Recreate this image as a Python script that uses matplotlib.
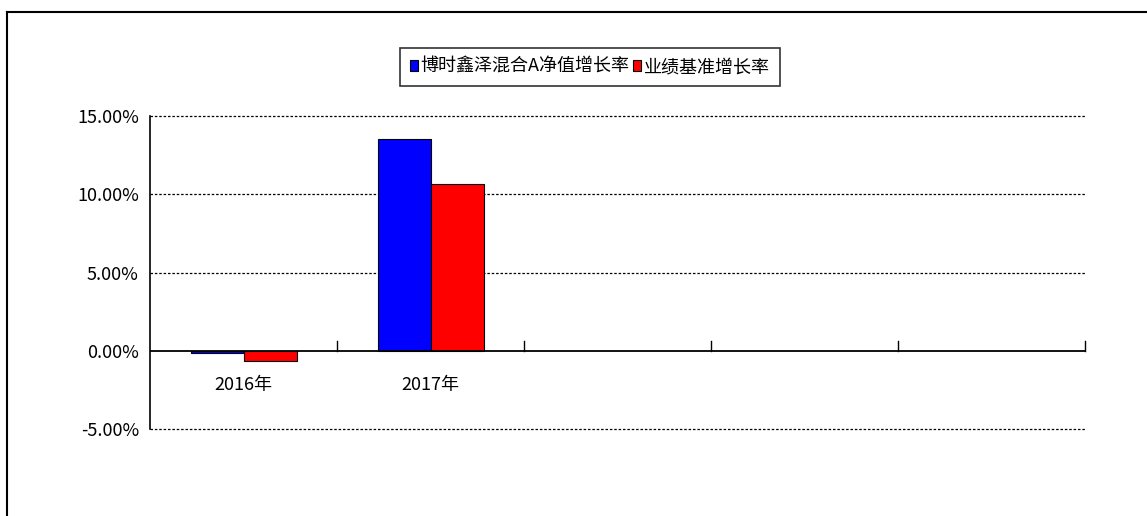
import numpy as np
import matplotlib.pyplot as plt
from matplotlib.lines import Line2D

plt.rcParams['font.family'] = ['Noto Sans CJK SC', 'DejaVu Sans']

# data
categories = ['2016年', '2017年', '', '', '']
fund_growth = [-0.15, 13.55]
bench_growth = [-0.68, 10.65]
series_names = ['博时鑫泽混合A净值增长率', '业绩基准增长率']
yticks = [-5, 0, 5, 10, 15]

W, H = 1147, 516
fig = plt.figure(figsize=(W / 100, H / 100), dpi=100)

# outer frame (top and left edges visible)
fig.add_artist(Line2D([7 / W, 7 / W], [0, 1 - 12 / H], color='black', lw=1.5))
fig.add_artist(Line2D([7 / W, 1], [1 - 12 / H, 1 - 12 / H], color='black', lw=1.5))

ax = fig.add_axes([150 / W, 1 - 429 / H, (1085 - 150) / W, (429 - 116) / H])

nslots = 5
x = np.arange(len(fund_growth)) + 0.5
bw = 53 / 187
ax.bar(x - bw / 2, fund_growth, bw, color='#0000ff', edgecolor='black', lw=0.8, label=series_names[0])
ax.bar(x + bw / 2, bench_growth, bw, color='#ff0000', edgecolor='black', lw=0.8, label=series_names[1])

ax.set_xlim(0, nslots)
ax.set_ylim(-5, 15)
ax.set_yticks(yticks)
ax.set_yticklabels(['%.2f%%' % v for v in yticks], fontsize=13)
for v in yticks:
    if v != 0:
        ax.axhline(v, color='black', lw=0.9, ls=(0, (2, 1.5)), zorder=0, clip_on=False)

ax.spines['top'].set_visible(False)
ax.spines['right'].set_visible(False)
ax.spines['bottom'].set_visible(False)
ax.spines['left'].set_color('black')
ax.spines['left'].set_linewidth(1.2)
ax.axhline(0, color='black', lw=1.3, zorder=3)

ax.tick_params(axis='y', length=0, pad=8)
ax.set_xticks([])
for i in range(1, nslots + 1):
    ax.plot([i, i], [0, 0.6], color='black', lw=1.0, zorder=3, clip_on=False)
for i, c in enumerate(categories):
    if c:
        ax.text(i + 0.5, -1.6, c, ha='center', va='top', fontsize=13)

leg = fig.legend(loc='center', bbox_to_anchor=(590 / W, 1 - 67 / H), ncol=2,
                 frameon=True, fancybox=False, edgecolor='black', fontsize=13,
                 handlelength=0.45, handleheight=0.6, handletextpad=0.15,
                 columnspacing=0.2, borderpad=0.55, borderaxespad=0)
leg.get_frame().set_linewidth(1.2)

fig.savefig('out.png', dpi=100)
